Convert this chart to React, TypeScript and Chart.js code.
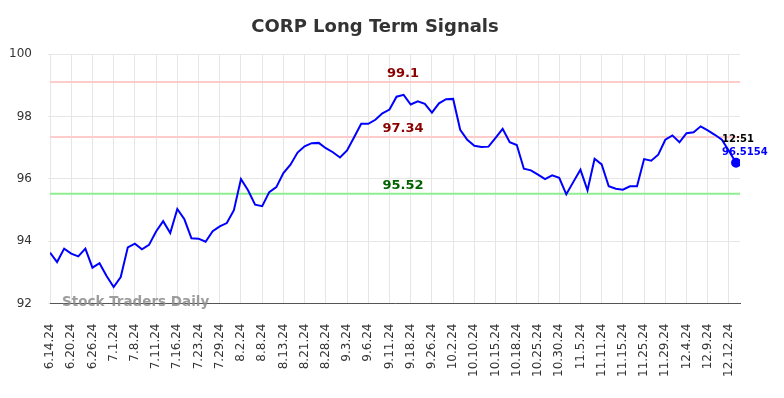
import React, { useEffect, useRef } from "react";
import { Chart, registerables } from "chart.js";

Chart.register(...registerables);

const TITLE = "CORP Long Term Signals";
const WATERMARK = "Stock Traders Daily";

const tickLabels = [
  "6.14.24", "6.20.24", "6.26.24", "7.1.24", "7.8.24", "7.11.24", "7.16.24", "7.23.24",
  "7.29.24", "8.2.24", "8.8.24", "8.13.24", "8.21.24", "8.28.24", "9.3.24", "9.6.24",
  "9.11.24", "9.18.24", "9.26.24", "10.2.24", "10.10.24", "10.15.24", "10.18.24", "10.25.24",
  "10.30.24", "11.5.24", "11.11.24", "11.15.24", "11.25.24", "11.29.24", "12.4.24", "12.9.24",
  "12.12.24",
];
const pointsPerTick = 3;

const prices = [
  93.63, 93.33, 93.76, 93.60, 93.51, 93.76, 93.15, 93.29, 92.88, 92.53,
  92.85, 93.80, 93.92, 93.74, 93.88, 94.31, 94.64, 94.26, 95.03, 94.70,
  94.09, 94.08, 93.98, 94.32, 94.47, 94.58, 94.99, 95.99, 95.63, 95.17,
  95.12, 95.57, 95.73, 96.18, 96.45, 96.84, 97.04, 97.14, 97.15, 96.98,
  96.85, 96.68, 96.91, 97.33, 97.76, 97.76, 97.89, 98.10, 98.22, 98.63,
  98.69, 98.38, 98.48, 98.40, 98.12, 98.42, 98.55, 98.56, 97.57, 97.25,
  97.06, 97.02, 97.03, 97.31, 97.60, 97.17, 97.08, 96.32, 96.27, 96.13,
  95.99, 96.11, 96.03, 95.50, 95.90, 96.29, 95.63, 96.64, 96.46, 95.76,
  95.68, 95.65, 95.76, 95.76, 96.63, 96.58, 96.77, 97.25, 97.39, 97.17,
  97.46, 97.49, 97.68, 97.55, 97.41, 97.25, 96.89, 96.5154,
];

const resistanceLevels = [99.1, 97.34];
const supportLevels = [95.52];
const lastTime = "12:51";
const lastValueLabel = "96.5154";

const yMin = 92;
const yMax = 100;
const yStep = 2;

const overlayPlugin = {
  id: "overlay",
  beforeDatasetsDraw(chart: any) {
    const { ctx, chartArea, scales } = chart;
    const y = scales.y;
    ctx.save();
    ctx.lineWidth = 2;
    resistanceLevels.forEach((v) => {
      const py = y.getPixelForValue(v);
      ctx.strokeStyle = "#ffcccc";
      ctx.beginPath();
      ctx.moveTo(chartArea.left, py);
      ctx.lineTo(chartArea.right, py);
      ctx.stroke();
    });
    supportLevels.forEach((v) => {
      const py = y.getPixelForValue(v);
      ctx.strokeStyle = "#90ee90";
      ctx.beginPath();
      ctx.moveTo(chartArea.left, py);
      ctx.lineTo(chartArea.right, py);
      ctx.stroke();
    });
    ctx.restore();
  },
  afterDraw(chart: any) {
    const { ctx, chartArea, scales } = chart;
    const y = scales.y;
    const x = scales.x;
    ctx.save();
    // title
    ctx.font = "bold 18px 'DejaVu Sans'";
    ctx.fillStyle = "#333333";
    ctx.textAlign = "center";
    ctx.textBaseline = "alphabetic";
    ctx.fillText(TITLE, 375, 32);

    // level labels
    const cx = (chartArea.left + chartArea.right) / 2 + 8;
    ctx.font = "bold 13px 'DejaVu Sans'";
    ctx.textBaseline = "middle";
    resistanceLevels.forEach((v) => {
      ctx.fillStyle = "#8b0000";
      ctx.fillText(String(v), cx, y.getPixelForValue(v) - 8);
    });
    supportLevels.forEach((v) => {
      ctx.fillStyle = "#006400";
      ctx.fillText(String(v), cx, y.getPixelForValue(v) - 8);
    });

    // watermark
    ctx.font = "bold 13.5px 'DejaVu Sans'";
    ctx.fillStyle = "rgba(140,140,140,0.85)";
    ctx.textAlign = "left";
    ctx.textBaseline = "alphabetic";
    ctx.fillText(WATERMARK, chartArea.left + 12, chartArea.bottom + 2);

    // last point annotation
    const li = prices.length - 1;
    const px = x.getPixelForValue(li);
    const py = y.getPixelForValue(prices[li]);
    ctx.textAlign = "left";
    ctx.textBaseline = "middle";
    ctx.font = "bold 10px 'DejaVu Sans'";
    ctx.fillStyle = "#000000";
    ctx.fillText(lastTime, px - 14, py - 23);
    ctx.fillStyle = "#0000ff";
    ctx.fillText(lastValueLabel, px - 14, py - 10);
    ctx.restore();
  },
};

export default function App() {
  const canvasRef = useRef<HTMLCanvasElement | null>(null);

  useEffect(() => {
    document.body.style.margin = "0";
    Chart.defaults.font.family = "'DejaVu Sans'";
    const canvas = canvasRef.current;
    if (!canvas) return;
    const data = prices.map((v, i) => ({ x: i, y: v }));
    const tickValues = tickLabels.map((_, i) => i * pointsPerTick);
    const chart = new Chart(canvas, {
      type: "line",
      data: {
        datasets: [
          {
            data,
            borderColor: "#0000ff",
            borderWidth: 2,
            pointRadius: data.map((_, i) => (i === data.length - 1 ? 4 : 0)),
            pointBackgroundColor: "#0000ff",
            pointBorderColor: "#0000ff",
            tension: 0,
            fill: false,
          },
        ],
      },
      options: {
        animation: false,
        responsive: false,
        layout: { padding: { top: 54, right: 44, left: 0, bottom: 0 } },
        plugins: {
          legend: { display: false },
          title: { display: false },
          tooltip: { enabled: false },
        },
        scales: {
          x: {
            type: "linear",
            min: 0,
            max: 97.56,
            afterBuildTicks: (scale: any) => {
              scale.ticks = tickValues.map((v) => ({ value: v }));
            },
            afterFit: (scale: any) => {
              scale.height = 94.5;
            },
            ticks: {
              autoSkip: false,
              minRotation: 90,
              maxRotation: 90,
              padding: 20,
              color: "#333333",
              font: { size: 12 },
              callback: (value: any) => {
                const idx = Math.round(Number(value) / pointsPerTick);
                return tickLabels[idx] ?? "";
              },
            },
            grid: { color: "#e6e6e6", lineWidth: 1, drawTicks: false },
            border: { display: true, color: "#555555", width: 1 },
          },
          y: {
            min: yMin,
            max: yMax,
            afterFit: (scale: any) => {
              scale.width = 50;
            },
            ticks: {
              stepSize: yStep,
              padding: 16,
              color: "#333333",
              font: { size: 12 },
            },
            grid: { color: "#e6e6e6", lineWidth: 1, drawTicks: true, tickLength: 2 },
            border: { display: false },
          },
        },
      },
      plugins: [overlayPlugin],
    });
    return () => chart.destroy();
  }, []);

  return <canvas ref={canvasRef} width={784} height={398} style={{ display: "block" }} />;
}
